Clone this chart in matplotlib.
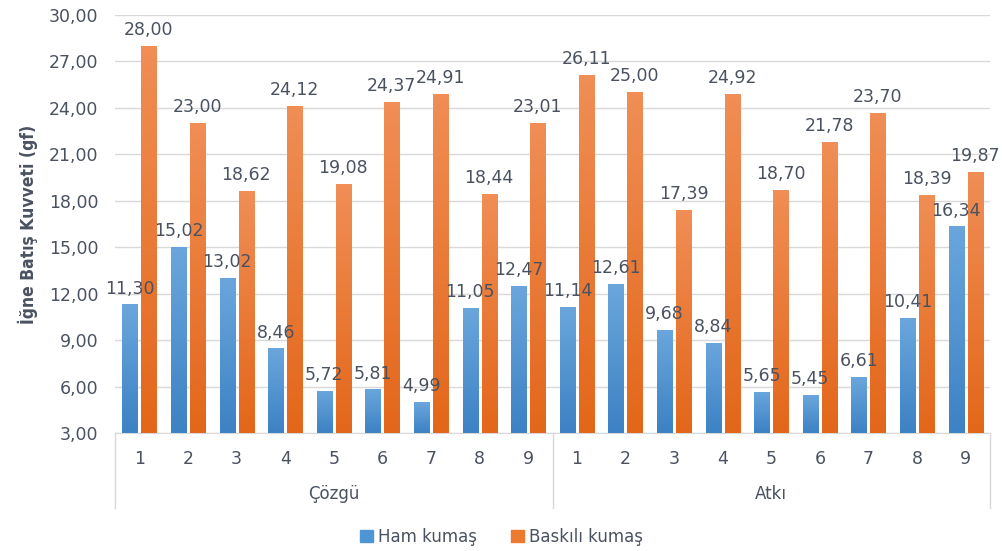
import matplotlib
matplotlib.use("Agg")
import matplotlib.pyplot as plt
import numpy as np
from matplotlib.colors import LinearSegmentedColormap
from matplotlib.patches import Patch

plt.rcParams['font.family'] = ['DejaVu Sans']

groups = ["Çözgü", "Atkı"]
samples = ["1", "2", "3", "4", "5", "6", "7", "8", "9"]
ham = [11.30, 15.02, 13.02, 8.46, 5.72, 5.81, 4.99, 11.05, 12.47,
       11.14, 12.61, 9.68, 8.84, 5.65, 5.45, 6.61, 10.41, 16.34]
baskili = [28.00, 23.00, 18.62, 24.12, 19.08, 24.37, 24.91, 18.44, 23.01,
           26.11, 25.00, 17.39, 24.92, 18.70, 21.78, 23.70, 18.39, 19.87]
series_names = ["Ham kumaş", "Baskılı kumaş"]
yticks = [3, 6, 9, 12, 15, 18, 21, 24, 27, 30]

txt = "#4a5260"
fig = plt.figure(figsize=(10.03, 5.51), dpi=100)
ax = fig.add_axes([0.1147, 0.2142, 0.8723, 0.7586])

n = len(ham)
x = np.arange(n)
w = 0.31
off = 0.195
blue_cmap = LinearSegmentedColormap.from_list("b", ["#3d82c4", "#6aa6dc"])
orange_cmap = LinearSegmentedColormap.from_list("o", ["#e3671a", "#f08e55"])
grad = np.linspace(0, 1, 64).reshape(-1, 1)

b1 = ax.bar(x - off, [v - 3 for v in ham], w, bottom=3, color="#4f94d4", zorder=2)
b2 = ax.bar(x + off, [v - 3 for v in baskili], w, bottom=3, color="#ec7a2e", zorder=2)
for bars, cmap in ((b1, blue_cmap), (b2, orange_cmap)):
    for b in bars:
        x0, y0 = b.get_x(), b.get_y()
        im = ax.imshow(grad, extent=[x0, x0 + b.get_width(), y0, y0 + b.get_height()],
                       origin="lower", aspect="auto", cmap=cmap, zorder=3)
        im.set_clip_path(b)

def fmt(v):
    return f"{v:.2f}".replace(".", ",")

for xs, vals in ((x - off, ham), (x + off, baskili)):
    for xi, v in zip(xs, vals):
        ax.annotate(fmt(v), (xi, v), xytext=(0, 5), textcoords="offset points",
                    ha="center", va="bottom", fontsize=12.5, color=txt, zorder=5)

ax.set_xlim(-0.5, n - 0.5)
ax.set_ylim(3, 30)
ax.set_yticks(yticks)
ax.set_yticklabels([fmt(v) for v in yticks], fontsize=12.5, color=txt)
ax.yaxis.grid(True, color="#d9d9d9", lw=1, zorder=0)
ax.set_axisbelow(True)
ax.tick_params(axis="y", length=0, pad=12)
ax.set_xticks(x)
ax.set_xticklabels(samples * len(groups), fontsize=12.5, color=txt)
ax.tick_params(axis="x", length=0, pad=12)
for s in ["top", "right", "left"]:
    ax.spines[s].set_visible(False)
ax.spines["bottom"].set_color("#d9d9d9")

trans = ax.get_xaxis_transform()
for sx in [-0.5, 8.5, 17.5]:
    ax.plot([sx, sx], [0, -0.18], transform=trans, color="#d9d9d9", lw=1, clip_on=False)
for gi, g in enumerate(groups):
    ax.text(gi * 9 + 4, -0.145, g, transform=trans, ha="center", va="center",
            fontsize=12, color=txt)

ax.set_ylabel("İğne Batış Kuvveti (gf)", fontsize=12.5, fontweight="bold", color=txt,
              family=["DejaVu Sans"], fontstretch="condensed", labelpad=8)

handles = [Patch(color="#4f94d4"), Patch(color="#ec7a2e")]
fig.legend(handles, series_names, loc="center", bbox_to_anchor=(0.5, 0.026), ncol=2,
           frameon=False, fontsize=12, labelcolor=txt, handlelength=0.8, handleheight=0.8,
           handletextpad=0.3, columnspacing=2.0)

fig.savefig("out.png", dpi=100)
